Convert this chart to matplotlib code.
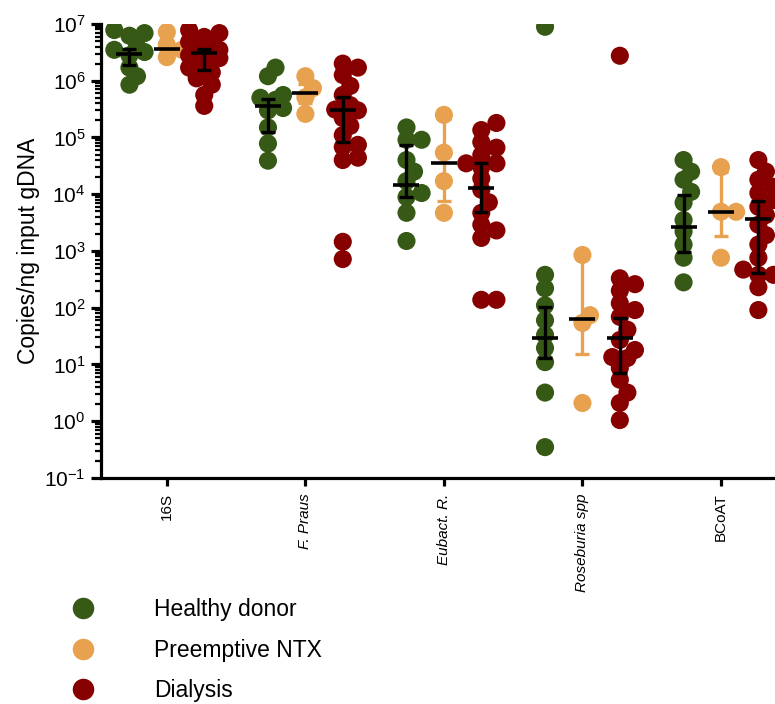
import numpy as np
import matplotlib
matplotlib.use("Agg")
import matplotlib.pyplot as plt
from matplotlib.lines import Line2D

plt.rcParams['font.family'] = ['Liberation Sans', 'DejaVu Sans']
plt.rcParams['mathtext.default'] = 'regular'

# categories and groups
genes = ["16S", "F. Praus", "Eubact. R.", "Roseburia spp", "BCoAT"]
italic = [False, True, True, True, False]
groups = ["Healthy donor", "Preemptive NTX", "Dialysis"]
colors = ["#365A16", "#E8A14F", "#870000"]

# copies / ng input gDNA, one list per gene
healthy = [
    [7.8e6, 6.9e6, 6.2e6, 4.0e6, 3.5e6, 3.2e6, 2.8e6, 1.7e6, 1.2e6, 8.5e5],
    [1.7e6, 1.2e6, 5.6e5, 5.0e5, 4.6e5, 3.3e5, 3.0e5, 1.5e5, 7.8e4, 3.9e4],
    [1.5e5, 9.1e4, 9.1e4, 4.0e4, 2.5e4, 1.7e4, 1.05e4, 8.9e3, 4.7e3, 1.5e3],
    [8.9e6, 380, 220, 110, 60, 33, 19.5, 11, 3.2, 0.35],
    [4.0e4, 2.5e4, 1.8e4, 1.1e4, 7.1e3, 3.5e3, 2.2e3, 1.3e3, 760, 280],
]
preemptive = [
    [7.2e6, 4.3e6, 3.5e6, 2.6e6],
    [1.2e6, 7.4e5, 5.1e5, 2.6e5],
    [2.5e5, 5.4e4, 1.7e4, 4.7e3],
    [850, 74, 54, 2.1],
    [3.0e4, 4.9e3, 4.9e3, 760],
]
dialysis = [
    [7.8e6, 6.9e6, 5.9e6, 4.8e6, 4.3e6, 3.8e6, 3.5e6, 3.1e6, 2.8e6, 2.5e6, 2.1e6, 1.7e6, 1.4e6, 1.1e6, 8.5e5, 5.6e5, 3.6e5],
    [2.0e6, 1.7e6, 1.26e6, 8.1e5, 5.6e5, 3.7e5, 3.1e5, 3.0e5, 2.2e5, 1.6e5, 1.1e5, 7.4e4, 6.8e4, 4.4e4, 4.0e4, 1.45e3, 720],
    [1.8e5, 1.35e5, 8.3e4, 6.6e4, 4.9e4, 3.5e4, 3.5e4, 3.0e4, 1.9e4, 1.2e4, 7.2e3, 4.7e3, 2.9e3, 2.3e3, 1.7e3, 138, 138],
    [2.75e6, 330, 260, 200, 120, 91, 69, 41, 27, 18, 13.5, 13, 8.7, 5.4, 3.2, 2.1, 1.05],
    [4.0e4, 2.5e4, 1.8e4, 1.35e4, 1.05e4, 7.9e3, 6.0e3, 4.3e3, 2.9e3, 1.9e3, 1.3e3, 760, 470, 380, 380, 230, 91],
]

# median and error bar ends per gene
healthy_med = [2.95e6, 3.6e5, 1.45e4, 29.5, 2.6e3]
healthy_lo = [1.9e6, 1.26e5, 8.9e3, 13, 950]
healthy_hi = [3.6e6, 4.8e5, 7.4e4, 102, 9.8e3]
pre_med = [3.6e6, 6.0e5, 3.5e4, 63, 4.9e3]
pre_lo = [2.8e6, 4.0e5, 7.6e3, 15.5, 1.8e3]
pre_hi = [6.5e6, 8.9e5, 2.1e5, 800, 2.5e4]
dia_med = [3.1e6, 3.0e5, 1.3e4, 29.5, 3.6e3]
dia_lo = [1.55e6, 8.3e4, 4.9e3, 7.1, 410]
dia_hi = [3.6e6, 5.1e5, 3.5e4, 66, 7.6e3]

points = [healthy, preemptive, dialysis]
meds = [healthy_med, pre_med, dia_med]
los = [healthy_lo, pre_lo, dia_lo]
his = [healthy_hi, pre_hi, dia_hi]
offsets = [-0.27, 0.0, 0.27]
bar_colors = ["black", colors[1], "black"]

fig = plt.figure(figsize=(7.75, 7.04), dpi=100)
ax = fig.add_axes([0.130, 0.321, 0.870, 0.645])
ax.set_yscale("log")
ax.set_ylim(1e-1, 1e7)
ax.set_xlim(-0.477, 4.39)

dot = 18  # marker diameter in px


def swarm_x(xc, vals):
    # small beeswarm in pixel space, points may overlap a bit
    pix = ax.transData.transform(np.column_stack([np.full(len(vals), xc), vals]))
    ys = pix[:, 1]
    x0 = pix[0, 0]
    placed = []
    xs = np.zeros(len(vals))
    step = dot * 0.42
    cands = [0.0, step, -step, 2 * step, -2 * step]
    thr = dot * 0.6
    for i in np.argsort(ys):
        best, best_d = 0.0, -1
        for c in cands:
            d = min([np.hypot(c - px, ys[i] - py) for px, py in placed] or [1e9])
            if d >= thr:
                best = c
                break
            if d > best_d:
                best, best_d = c, d
        placed.append((best, ys[i]))
        xs[i] = best
    back = ax.transData.inverted().transform(np.column_stack([x0 + xs, ys]))
    return back[:, 0]


for g in range(3):
    for j in range(len(genes)):
        xc = j + offsets[g]
        vals = np.array(points[g][j])
        xs = swarm_x(xc, vals)
        ax.scatter(xs, vals, s=170, color=colors[g], edgecolors="none", zorder=2)

for g in range(3):
    for j in range(len(genes)):
        xc = j + offsets[g]
        m, lo, hi = meds[g][j], los[g][j], his[g][j]
        ax.errorbar(xc, m, yerr=[[m - lo], [hi - m]], fmt="none", ecolor=bar_colors[g],
                    elinewidth=2.4, capsize=4.7, capthick=2.4, zorder=3)
        ax.plot(xc, m, marker="_", ms=19, mew=2.6, color="black", ls="none", zorder=4)

ax.spines["top"].set_visible(False)
ax.spines["right"].set_visible(False)
ax.spines["left"].set_linewidth(2.3)
ax.spines["bottom"].set_linewidth(2.3)

ax.set_xticks(range(len(genes)))
ax.set_xticklabels(genes, rotation=90, fontsize=11)
for lab, it in zip(ax.get_xticklabels(), italic):
    if it:
        lab.set_style("italic")
ax.tick_params(axis="x", length=6, width=2.3, pad=5)
ax.set_yticks([10.0 ** k for k in range(-1, 8)])
ax.yaxis.set_minor_locator(matplotlib.ticker.LogLocator(base=10, subs=np.arange(2, 10), numticks=20))
ax.yaxis.set_minor_formatter(matplotlib.ticker.NullFormatter())
ax.tick_params(axis="y", which="major", length=7, width=2.3, labelsize=15, pad=4)
ax.tick_params(axis="y", which="minor", length=4, width=1.6)
ax.set_ylabel("Copies/ng input gDNA", fontsize=16.5, labelpad=3)

handles = [Line2D([], [], marker="o", ls="none", ms=15.5, color=c, markeredgewidth=0) for c in colors]
fig.legend(handles, groups, loc="upper left", bbox_to_anchor=(0.092, 0.150), frameon=False,
           fontsize=16.5, handlelength=1.0, handletextpad=2.6, labelspacing=0.76,
           borderpad=0, borderaxespad=0)

fig.savefig("out.png", dpi=100)
